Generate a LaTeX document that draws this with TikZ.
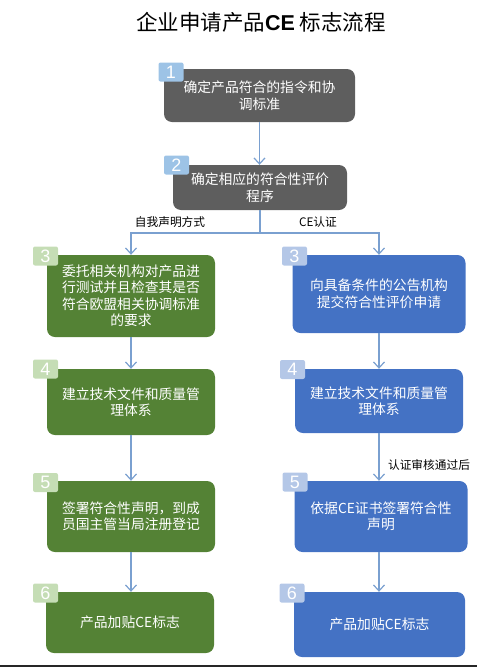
\documentclass[tikz,border=0pt]{standalone}
\usepackage{fontspec}
\usepackage{tikz}
\usetikzlibrary{arrows.meta}
\newfontfamily\cjk{Noto Sans CJK SC}
\newfontfamily\numfont{Liberation Sans}
\definecolor{boxgray}{HTML}{5E5E5E}
\definecolor{boxgreen}{HTML}{548235}
\definecolor{boxblue}{HTML}{4472C4}
\definecolor{tabgray}{HTML}{9DC3E6}
\definecolor{tabgreen}{HTML}{C5DDB5}
\definecolor{tabblue}{HTML}{B4C7E7}
\definecolor{linkblue}{HTML}{7AA0D0}
\tikzset{
  stepbox/.style={rectangle,rounded corners=8pt,text=white,align=center,
    inner sep=0pt,font=\cjk\fontsize{13.8}{16.5}\selectfont},
  tab/.style={rectangle,rounded corners=2pt,minimum width=25pt,
    minimum height=19pt,inner sep=0pt,text=white,
    font=\numfont\fontsize{18}{18}\selectfont},
  wire/.style={draw=linkblue,line width=1.2pt},
  link/.style={wire,-{Straight Barb[length=6pt,width=11pt]}},
  note/.style={font=\cjk\fontsize{11.7}{14}\selectfont}
}
\begin{document}
\begin{tikzpicture}[x=1pt,y=-1pt]
  \useasboundingbox (0,0) rectangle (477,667);
  \node[font=\cjk\fontsize{21.5}{26}\selectfont] (title) at (261,22)
     {企业申请产品{\numfont\bfseries CE} 标志流程};

  \node[stepbox,fill=boxgray,minimum width=191pt,minimum height=53pt]
     (b1) at (259.5,95.5) {确定产品符合的指令和协\\调标准};
  \node[stepbox,fill=boxgray,minimum width=174pt,minimum height=45pt]
     (b2) at (260,187.5) {确定相应的符合性评价\\程序};

  \node[stepbox,fill=boxgreen,minimum width=168pt,minimum height=82pt]
     (l3) at (131,296) {委托相关机构对产品进\\行测试并且检查其是否\\符合欧盟相关协调标准\\的要求};
  \node[stepbox,fill=boxgreen,minimum width=168pt,minimum height=66pt]
     (l4) at (131,402) {建立技术文件和质量管\\理体系};
  \node[stepbox,fill=boxgreen,minimum width=168pt,minimum height=71pt]
     (l5) at (131,516.5) {签署符合性声明，到成\\员国主管当局注册登记};
  \node[stepbox,fill=boxgreen,minimum width=168pt,minimum height=61pt]
     (l6) at (130,622.5) {产品加贴CE标志};

  \node[stepbox,fill=boxblue,minimum width=173pt,minimum height=78pt]
     (r3) at (379,294) {向具备条件的公告机构\\提交符合性评价申请};
  \node[stepbox,fill=boxblue,minimum width=168pt,minimum height=64pt]
     (r4) at (379,401) {建立技术文件和质量管\\理体系};
  \node[stepbox,fill=boxblue,minimum width=173pt,minimum height=71pt]
     (r5) at (381,516.5) {依据CE证书签署符合性\\声明};
  \node[stepbox,fill=boxblue,minimum width=171pt,minimum height=65pt]
     (r6) at (379.5,624.5) {产品加贴CE标志};

  \node[tab,fill=tabgray] (t1) at (171,72) {1};
  \node[tab,fill=tabgray] (t2) at (176.5,165) {2};
  \node[tab,fill=tabgreen] (tl3) at (45.5,256) {3};
  \node[tab,fill=tabgreen] (tl4) at (45.5,369) {4};
  \node[tab,fill=tabgreen] (tl5) at (45.5,482.5) {5};
  \node[tab,fill=tabgreen] (tl6) at (45.5,593) {6};
  \node[tab,fill=tabblue] (tr3) at (294.5,256) {3};
  \node[tab,fill=tabblue] (tr4) at (292.5,369.5) {4};
  \node[tab,fill=tabblue] (tr5) at (295,482) {5};
  \node[tab,fill=tabblue] (tr6) at (292,593) {6};

  \node[note] (self) at (170,222) {自我声明方式};
  \node[note] (cert) at (318,222) {CE认证};
  \node[note] (pass) at (429,465) {认证审核通过后};

  \coordinate (fork) at (260,233);
  \draw[link] (b1.south) -- (b1.south |- b2.north);
  \draw[wire] (b2.south) -- (fork);
  \draw[link] (fork) -| (l3.north);
  \draw[link] (fork) -| (r3.north);
  \draw[link] (l3.south) -- (l4.north);
  \draw[link] (l4.south) -- (l5.north);
  \draw[link] (l5.south) -- (l5.south |- l6.north);
  \draw[link] (r3.south) -- (r4.north);
  \draw[link] (r4.south) -- (r4.south |- r5.north);
  \draw[link] (r5.south -| r4.south) -- (r4.south |- r6.north);

  \fill[black!85] (0,665) rectangle (477,667);
\end{tikzpicture}
\end{document}
